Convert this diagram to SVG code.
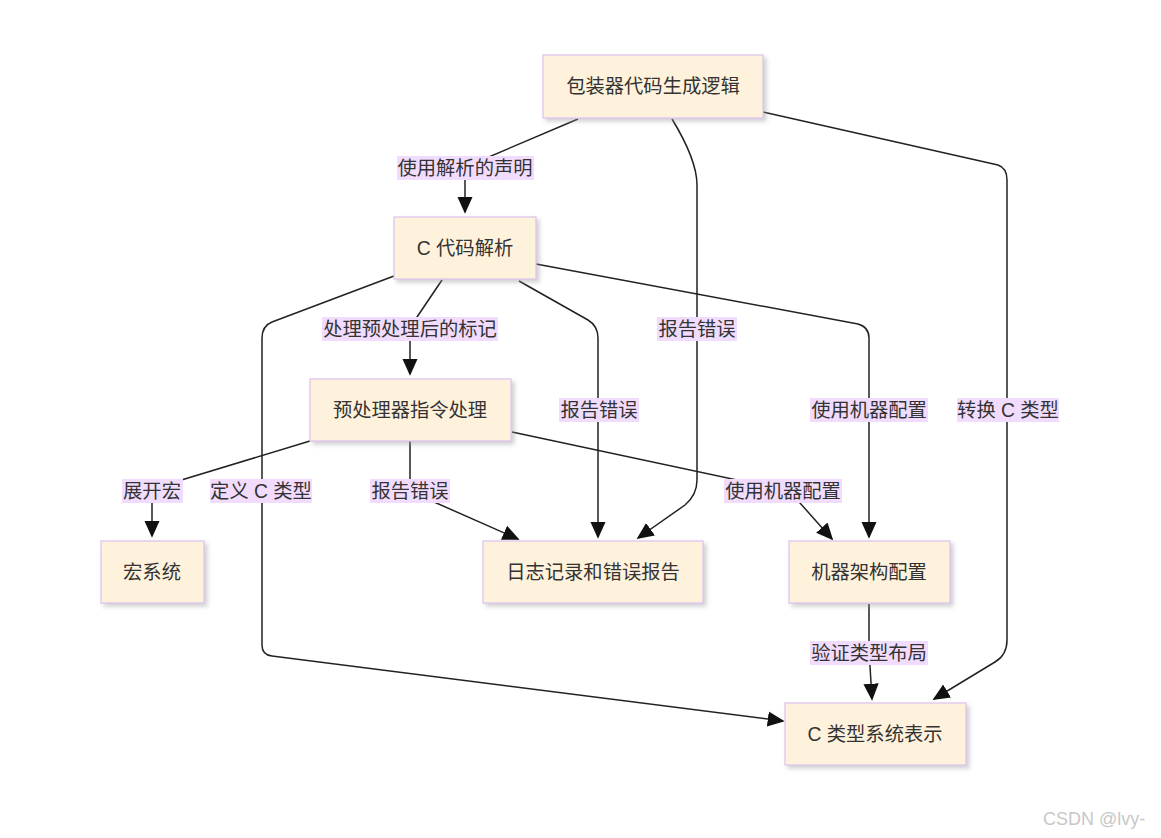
<svg xmlns="http://www.w3.org/2000/svg" width="1161" height="838" viewBox="0 0 1161 838">
<style>
.node rect{fill:#fff2dc;stroke:#dcc2ee;stroke-width:1.2;filter:url(#sh)}
.node text,.lbl text{font-family:"Liberation Sans","Noto Sans CJK SC",sans-serif;font-size:19.3px;fill:#333;text-anchor:middle;dominant-baseline:central}
.lbl rect{fill:#f2dcfd}
.edges path{fill:none;stroke:#222;stroke-width:1.5;marker-end:url(#arr)}
.wm{font-family:"Liberation Sans",sans-serif;font-size:18px;fill:#c8c8c8}
</style>
<defs>
<filter id="sh" x="-10%" y="-10%" width="130%" height="140%">
<feDropShadow dx="3" dy="3" stdDeviation="2" flood-color="#999" flood-opacity="0.45"/>
</filter>
<marker id="arr" viewBox="0 0 10 10" refX="9" refY="5" markerWidth="17" markerHeight="17" markerUnits="userSpaceOnUse" orient="auto">
<path d="M0,0.5 L10,5 L0,9.5 z" fill="#111"/>
</marker>
</defs>
<rect width="1161" height="838" fill="#fff"/>
<g class="edges">
<path d="M578,119 L477,162 Q465,167 465,180 L465,212"/>
<path d="M442,280 L415,320 Q410,328 410,340 L410,374"/>
<path d="M310,441 L165,485 Q152,490 152,500 L152,536"/>
<path d="M394,276 L272,322 Q262,326 262,338 L262,645 Q262,655 272,656 L783,721"/>
<path d="M519,281 L588,320 Q598,326 598,338 L598,537"/>
<path d="M536,264 L858,324 Q869,327 869,338 L869,537"/>
<path d="M672,119 Q697,160 697,185 L697,480 Q697,495 685,505 L638,538"/>
<path d="M763,112 L998,165 Q1007,168 1007,180 L1007,640 Q1007,655 995,662 L934,699"/>
<path d="M410,441 L410,480 Q410,492 425,498 L518,539"/>
<path d="M512,432 L770,487 Q790,492 800,503 L832,539"/>
<path d="M869,604 L869,650 L872,699"/>
</g>
<g id="labels">
<g class="lbl"><rect x="397" y="156" width="137" height="24"/><text x="465" y="168">使用解析的声明</text></g>
<g class="lbl"><rect x="322" y="317" width="176" height="24"/><text x="410" y="329">处理预处理后的标记</text></g>
<g class="lbl"><rect x="657" y="317" width="80" height="24"/><text x="697" y="329">报告错误</text></g>
<g class="lbl"><rect x="957" y="398" width="102" height="24"/><text x="1008" y="410">转换 C 类型</text></g>
<g class="lbl"><rect x="559" y="398" width="80" height="24"/><text x="599" y="410">报告错误</text></g>
<g class="lbl"><rect x="810" y="398" width="118" height="24"/><text x="869" y="410">使用机器配置</text></g>
<g class="lbl"><rect x="122" y="479" width="61" height="24"/><text x="152" y="491">展开宏</text></g>
<g class="lbl"><rect x="210" y="479" width="102" height="24"/><text x="261" y="491">定义 C 类型</text></g>
<g class="lbl"><rect x="370" y="479" width="80" height="24"/><text x="410" y="491">报告错误</text></g>
<g class="lbl"><rect x="724" y="479" width="118" height="24"/><text x="783" y="491">使用机器配置</text></g>
<g class="lbl"><rect x="810" y="641" width="118" height="24"/><text x="869" y="653">验证类型布局</text></g>
</g>
<g id="n1" class="node"><rect x="543" y="55" width="220" height="63"/><text x="653" y="86">包装器代码生成逻辑</text></g>
<g id="n2" class="node"><rect x="394" y="217" width="142" height="62"/><text x="465" y="248">C 代码解析</text></g>
<g id="n3" class="node"><rect x="310" y="379" width="201" height="62"/><text x="410" y="410">预处理器指令处理</text></g>
<g id="n4" class="node"><rect x="101" y="541" width="103" height="62"/><text x="152" y="572">宏系统</text></g>
<g id="n5" class="node"><rect x="483" y="541" width="220" height="62"/><text x="593" y="572">日志记录和错误报告</text></g>
<g id="n6" class="node"><rect x="789" y="541" width="161" height="62"/><text x="869" y="572">机器架构配置</text></g>
<g id="n7" class="node"><rect x="785" y="703" width="181" height="62"/><text x="875" y="734">C 类型系统表示</text></g>
<text class="wm" x="1043" y="825">CSDN @lvy-</text>
</svg>
